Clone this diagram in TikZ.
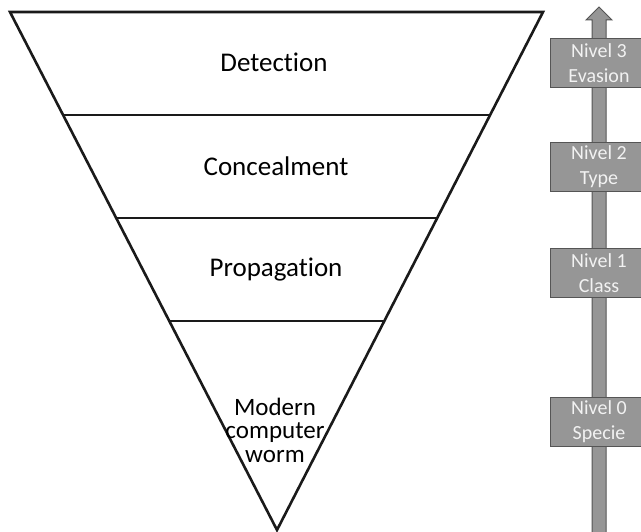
\documentclass[tikz,border=0pt]{standalone}
\usepackage{fontspec}
\setmainfont{Carlito}[Ligatures=NoCommon]
\usetikzlibrary{calc}
\definecolor{bargray}{HTML}{969696}
\definecolor{baredge}{HTML}{555555}
\definecolor{lvltext}{HTML}{F2F2F2}
\definecolor{inkline}{HTML}{1A1A1A}
\begin{document}
\begin{tikzpicture}[x=1pt,y=-1pt,
  layertext/.style={font=\fontsize{27}{30}\selectfont, text=black, align=center, inner sep=0pt},
  levelbox/.style={draw=baredge, fill=bargray, line width=1pt, minimum width=98pt,
    minimum height=49pt, inner sep=0pt, align=center, text=lvltext,
    font=\fontsize{20}{25}\selectfont},
  edgeline/.style={line width=2.6pt, draw=inkline, line join=miter}]
\useasboundingbox (0,0) rectangle (641,532);

% inverted pyramid
\coordinate (tl) at (10,12);
\coordinate (tr) at (543,12);
\coordinate (ap) at (277,530);
\draw[edgeline] (tl) -- (tr) -- (ap) -- cycle;
\foreach \t in {0.1988,0.3977,0.5965}{
  \draw[edgeline] ($(tl)!\t!(ap)$) -- ($(tr)!\t!(ap)$);
}

% layer labels
\node[layertext] (det) at (274,62) {Detection};
\node[layertext] (con) at (276,166) {Concealment};
\node[layertext] (pro) at (276,270) {Propagation};
\node[layertext, font=\fontsize{25}{23.5}\selectfont] (worm) at (275,430) {Modern\\computer\\worm};

% vertical level axis
\coordinate (axbase) at (599,545);
\coordinate (axtip) at (599,7);
\draw[fill=bargray, draw=baredge, line width=1pt]
  ($(axbase)+(-7,0)$) -- (592,20) -- (586,20) -- (axtip) -- (612,20) -- (606,20)
  -- ($(axbase)+(7,0)$) -- cycle;

% level markers
\node[levelbox] (l3) at (599,63.5) {Nivel 3\\Evasion};
\node[levelbox] (l2) at (599,167) {Nivel 2\\Type};
\node[levelbox] (l1) at (599,273) {Nivel 1\\Class};
\node[levelbox] (l0) at (599,422) {Nivel 0\\Specie};
\end{tikzpicture}
\end{document}
